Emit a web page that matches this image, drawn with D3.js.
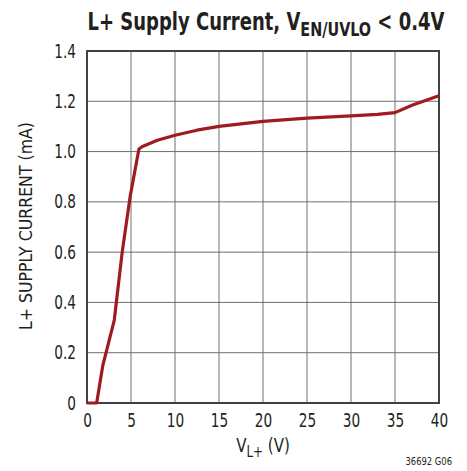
<!DOCTYPE html>
<html>
<head>
<meta charset="utf-8">
<script src="https://cdn.jsdelivr.net/npm/d3@7"></script>
<style>
  body { margin: 0; background: #fff; }
  text { font-family: "DejaVu Sans Condensed", "DejaVu Sans", sans-serif; fill: #231f20; }
</style>
</head>
<body>
<svg id="chart" width="467" height="471"></svg>
<script>
// supply voltage (V) and supply current (mA)
var vSupply = [0, 1.1, 1.8, 3.1, 4.0, 4.9, 5.9, 6.3, 8, 10, 12.5, 15, 17.5, 20, 25, 30, 33, 35, 37, 40]
var iSupply = [0, 0, 0.15, 0.33, 0.6, 0.82, 1.01, 1.02, 1.045, 1.065, 1.085, 1.1, 1.11, 1.12, 1.133, 1.142, 1.148, 1.155, 1.185, 1.222]

var xTicks = [0, 5, 10, 15, 20, 25, 30, 35, 40]
var yTicks = [0, 0.2, 0.4, 0.6, 0.8, 1.0, 1.2, 1.4]
var yTickLabels = ["0", "0.2", "0.4", "0.6", "0.8", "1.0", "1.2", "1.4"]

var plotLeft = 87, plotRight = 439, plotTop = 51, plotBottom = 403
var squeeze = 0.8   // horizontal squeeze to mimic the condensed face

var svg = d3.select("#chart")

var x = d3.scaleLinear().domain([0, 40]).range([plotLeft, plotRight])
var y = d3.scaleLinear().domain([0, 1.4]).range([plotBottom, plotTop])

// grid
svg.append("g")
    .selectAll("line")
    .data(xTicks)
    .enter()
    .append("line")
    .attr("x1", function(d) { return x(d) })
    .attr("x2", function(d) { return x(d) })
    .attr("y1", plotTop)
    .attr("y2", plotBottom)
    .style("stroke", "#6d6e71")
    .style("stroke-width", 1)

svg.append("g")
    .selectAll("line")
    .data(yTicks)
    .enter()
    .append("line")
    .attr("x1", plotLeft)
    .attr("x2", plotRight)
    .attr("y1", function(d) { return y(d) })
    .attr("y2", function(d) { return y(d) })
    .style("stroke", "#6d6e71")
    .style("stroke-width", 1)

// frame
svg.append("rect")
    .attr("x", plotLeft)
    .attr("y", plotTop)
    .attr("width", plotRight - plotLeft)
    .attr("height", plotBottom - plotTop)
    .style("fill", "none")
    .style("stroke", "#414042")
    .style("stroke-width", 2)

// axes (labels only, the frame and grid are drawn above)
var xAxis = d3.axisBottom(x).tickValues(xTicks).tickSize(0).tickPadding(11)
var gx = svg.append("g")
    .attr("transform", `translate(0,${plotBottom})`)
    .call(xAxis)
gx.select(".domain").remove()
gx.attr("font-family", null).attr("font-size", null)
gx.selectAll("text")
    .style("font-size", "19px")
    .attr("transform", `scale(${squeeze},1)`)

var yAxis = d3.axisLeft(y).tickValues(yTicks).tickSize(0).tickPadding(11)
    .tickFormat(function(d, i) { return yTickLabels[i] })
var gy = svg.append("g")
    .attr("transform", `translate(${plotLeft},0)`)
    .call(yAxis)
gy.select(".domain").remove()
gy.attr("font-family", null).attr("font-size", null)
gy.selectAll("text")
    .style("font-size", "19px")
    .attr("x", -11 / squeeze)
    .attr("transform", `scale(${squeeze},1)`)

// curve
var line = d3.line()
    .x(function(d, i) { return x(vSupply[i]) })
    .y(function(d) { return y(d) })

svg.append("path")
    .attr("d", line(iSupply))
    .style("fill", "none")
    .style("stroke", "#9e1b22")
    .style("stroke-width", 3.2)
    .style("stroke-linejoin", "round")

// title
var title = svg.append("text")
    .attr("transform", "translate(266,30) scale(0.8,1)")
    .attr("text-anchor", "middle")
    .style("font-size", "25px")
    .style("font-weight", "bold")
title.append("tspan").text("L+ Supply Current, V")
title.append("tspan").attr("dy", 6).style("font-size", "20px").text("EN/UVLO")
title.append("tspan").attr("dy", -6).text(" < 0.4V")

// axis titles
svg.append("text")
    .attr("transform", "translate(32,226) rotate(-90)")
    .attr("text-anchor", "middle")
    .attr("textLength", 208)
    .attr("lengthAdjust", "spacingAndGlyphs")
    .style("font-size", "18px")
    .text("L+ SUPPLY CURRENT (mA)")

var xl = svg.append("text")
    .attr("transform", "translate(263,452) scale(0.88,1)")
    .attr("text-anchor", "middle")
    .style("font-size", "19px")
xl.append("tspan").text("V")
xl.append("tspan").attr("dy", 5).style("font-size", "15px").text("L+")
xl.append("tspan").attr("dy", -5).text(" (V)")

svg.append("text")
    .attr("transform", "translate(452,465) scale(0.85,1)")
    .attr("text-anchor", "end")
    .style("font-size", "11px")
    .text("36692 G06")
</script>
</body>
</html>
